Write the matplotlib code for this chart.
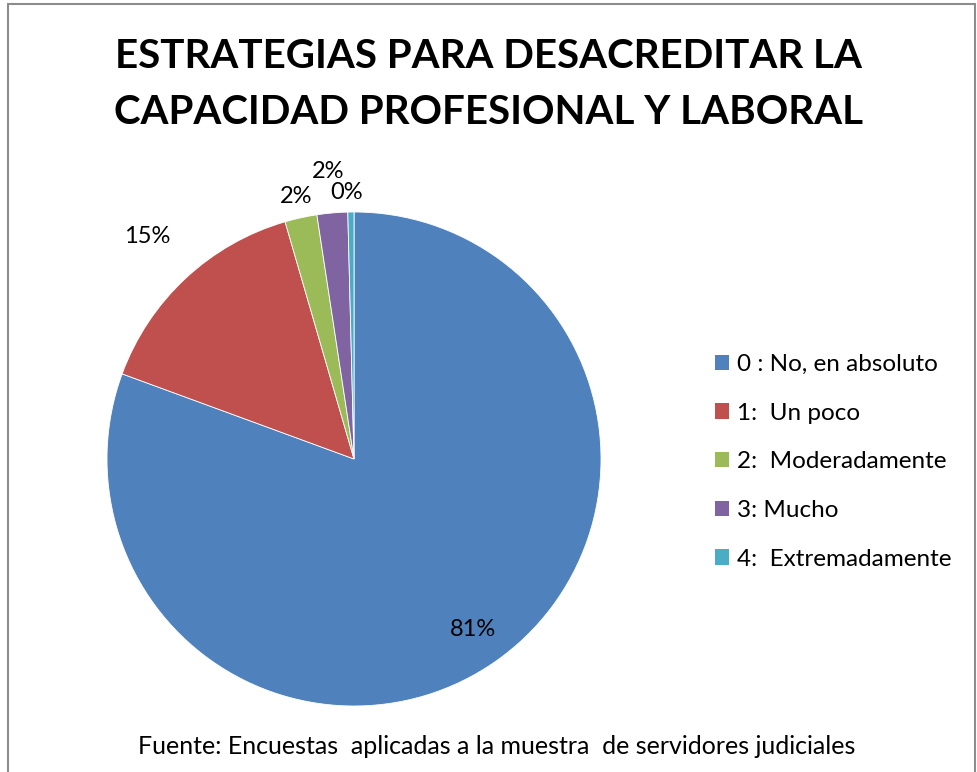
import numpy as np
import matplotlib.pyplot as plt
from matplotlib.patches import Rectangle, Patch

plt.rcParams['font.family'] = ['Lato', 'DejaVu Sans']

categories = ["0 : No, en absoluto", "1:  Un poco", "2:  Moderadamente",
              "3: Mucho", "4:  Extremadamente"]
values = [80.6, 14.9, 2.1, 2.0, 0.4]
colors = ["#4F81BD", "#C0504D", "#9BBB59", "#8064A2", "#4BACC6"]

W, H = 978, 772
fig = plt.figure(figsize=(W / 100, H / 100), dpi=100)

# chart border
fig.patches.append(Rectangle((8 / W, -0.01), (975 - 8) / W, (H - 4) / H + 0.01,
                             transform=fig.transFigure, fill=False,
                             edgecolor="#8c8c8c", linewidth=1.5))

cx, cy, r = 354, 459, 247
ax = fig.add_axes([(cx - r) / W, (H - cy - r) / H, 2 * r / W, 2 * r / H])
wedges, _ = ax.pie(values, colors=colors, startangle=90, counterclock=False,
                   radius=1, wedgeprops=dict(edgecolor="white", linewidth=0.6))
ax.set_xlim(-1, 1)
ax.set_ylim(-1, 1)
ax.set_aspect("auto")

# label distances (fraction of radius)
dists = [0.84, 1.23, 1.09, 1.17, 1.08]
for w, v, d in zip(wedges, values, dists):
    th = np.deg2rad((w.theta1 + w.theta2) / 2)
    if v < 1:
        th = np.deg2rad(w.theta1 + 1.5)
    ax.text(d * np.cos(th), d * np.sin(th), f"{v:.0f}%", ha="center",
            va="center", fontsize=17, clip_on=False)

fig.text(0.5, 1 - 57 / H, "ESTRATEGIAS PARA DESACREDITAR LA",
         ha="center", va="center", fontsize=29, fontweight="bold")
fig.text(0.5, 1 - 113 / H, "CAPACIDAD PROFESIONAL Y LABORAL",
         ha="center", va="center", fontsize=29, fontweight="bold")

handles = [Patch(facecolor=c, edgecolor="none") for c in colors]
fig.legend(handles, categories, loc="upper left",
           bbox_to_anchor=(693 / W, 1 - 332 / H), frameon=False,
           fontsize=17.5, handlelength=0.6, handleheight=0.6,
           handletextpad=0.3, labelspacing=1.14)

fig.text(138 / W, 1 - 746 / H,
         "Fuente: Encuestas  aplicadas a la muestra  de servidores judiciales",
         ha="left", va="center", fontsize=18)

fig.savefig("out.png", dpi=100)
